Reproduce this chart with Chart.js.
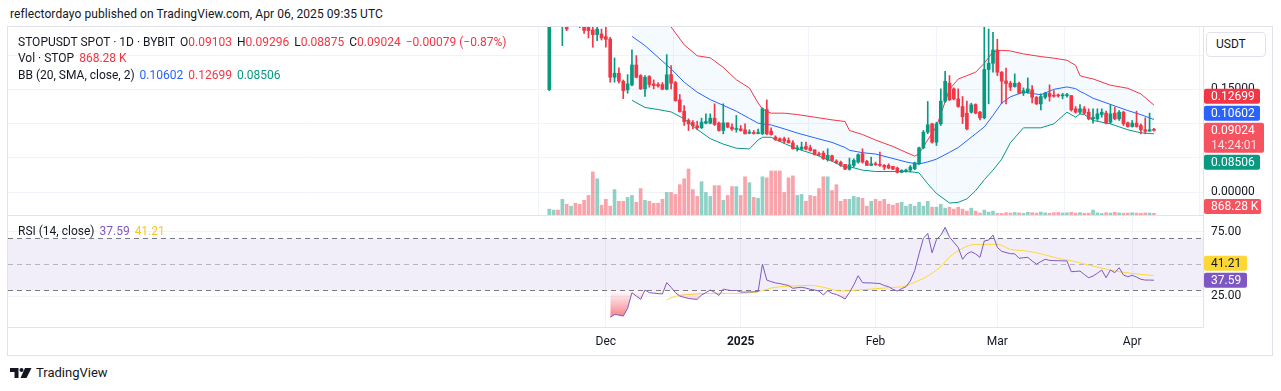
<!DOCTYPE html>
<html>
<head>
<meta charset="utf-8">
<title>STOPUSDT 1D</title>
<script src="https://cdn.jsdelivr.net/npm/chart.js@4.4.1/dist/chart.umd.min.js"></script>
<style>
    html, body { margin: 0; padding: 0; background: #fff; }
    body { position: relative; width: 1281px; height: 391px; overflow: hidden; font-family: Roboto, "Noto Sans", sans-serif; color: #131722; }
    .abs { position: absolute; white-space: nowrap; }
    #frame { left: 7px; top: 26px; width: 1266px; height: 330px; border: 1px solid #e0e3eb; box-sizing: border-box; }
    #priceCanvas { position: absolute; left: 8px; top: 27px; }
    #rsiCanvas { position: absolute; left: 8px; top: 215px; }
    .sep { position: absolute; left: 8px; width: 1195px; height: 1px; background: #e0e3eb; }
    .legend { font-size: 12px; line-height: 14px; }
    .legend span { margin-left: 5px; }
    .red { color: #F23645; }
    #usdt { left: 1206px; top: 32px; width: 60px; height: 25px; border: 1px solid #e0e3eb; border-radius: 4px; box-sizing: border-box; font-size: 12px; line-height: 23px; padding-left: 9px; background: #fff; }
</style>
</head>
<body>
<div class="abs" style="left:10px;top:7px;font-size:12px;line-height:14px;letter-spacing:0.08px;">reflectordayo published on TradingView.com, Apr 06, 2025 09:35 UTC</div>
<div id="frame" class="abs"></div>
<canvas id="priceCanvas" width="1265" height="188"></canvas>
<canvas id="rsiCanvas" width="1265" height="141"></canvas>
<div class="sep" style="top:215px;"></div>

<div class="abs legend" style="left:18px;top:35px;">STOPUSDT SPOT · 1D · BYBIT<span>O<b class="red" style="font-weight:normal">0.09103</b></span><span>H<b class="red" style="font-weight:normal">0.09296</b></span><span>L<b class="red" style="font-weight:normal">0.08875</b></span><span>C<b class="red" style="font-weight:normal">0.09024</b></span><span class="red">−0.00079 (−0.87%)</span></div>
<div class="abs legend" style="left:18px;top:51px;">Vol · STOP<span class="red">868.28 K</span></div>
<div class="abs legend" style="left:18px;top:68px;">BB (20, SMA, close, 2)<span style="color:#2962FF">0.10602</span><span style="color:#F23645">0.12699</span><span style="color:#089981">0.08506</span></div>
<div class="abs legend" style="left:18px;top:224px;">RSI (14, close)<span style="color:#7E57C2">37.59</span><span style="color:#F9C825">41.21</span></div>
<div id="usdt" class="abs">USDT</div>

<svg class="abs" style="left:10px;top:368px;" width="22" height="10" viewBox="0 0 22 10">
    <path d="M0 0H8.5V10H4.5V4H0Z" fill="#131722"/>
    <circle cx="11.5" cy="2" r="2" fill="#131722"/>
    <path d="M15 0H21.5L16.5 10H10.5Z" fill="#131722"/>
</svg>
<div class="abs" style="left:36px;top:365px;font-size:13px;line-height:16px;">TradingView</div>

<script>
// Daily candles, first one is 2024-11-18 (index 0), last is 2025-04-06 (index 139)
const opens = [
    0.1496, 0.2900, 0.3100, 0.2600, 0.2850, 0.2450, 0.2600, 0.2550, 0.2450, 0.2405,
    0.2367, 0.2299, 0.2308, 0.2269, 0.2235, 0.1676, 0.1735, 0.1618, 0.1492, 0.1565,
    0.1856, 0.1701, 0.1507, 0.1686, 0.1579, 0.1570, 0.1570, 0.1502, 0.1715, 0.1599,
    0.1346, 0.1180, 0.1045, 0.1016, 0.0967, 0.0938, 0.1006, 0.1006, 0.1079, 0.1006,
    0.0899, 0.1010, 0.0948, 0.0914, 0.0923, 0.0909, 0.0860, 0.0870, 0.0855, 0.0850,
    0.1205, 0.0889, 0.0802, 0.0778, 0.0778, 0.0753, 0.0719, 0.0627, 0.0627, 0.0666,
    0.0646, 0.0617, 0.0559, 0.0569, 0.0471, 0.0530, 0.0452, 0.0433, 0.0403, 0.0331,
    0.0389, 0.0438, 0.0559, 0.0447, 0.0389, 0.0413, 0.0403, 0.0389, 0.0389, 0.0374,
    0.0350, 0.0287, 0.0306, 0.0321, 0.0340, 0.0413, 0.0646, 0.0875, 0.0996, 0.0729,
    0.0996, 0.1327, 0.1590, 0.1507, 0.1360, 0.1249, 0.1150, 0.1166, 0.1278, 0.1166,
    0.1084, 0.1790, 0.1880, 0.2075, 0.1750, 0.1623, 0.1589, 0.1540, 0.1589, 0.1443,
    0.1458, 0.1492, 0.1385, 0.1288, 0.1385, 0.1443, 0.1414, 0.1419, 0.1404, 0.1409,
    0.1409, 0.1215, 0.1166, 0.1215, 0.1166, 0.1069, 0.1069, 0.1132, 0.1152, 0.1020,
    0.1152, 0.1069, 0.1166, 0.1011, 0.0957, 0.1006, 0.0972, 0.0909, 0.0889, 0.09103
];
const highs = [
    0.3300, 0.3600, 0.3400, 0.3000, 0.2900, 0.2700, 0.2750, 0.2600, 0.2500, 0.2450,
    0.2405, 0.2450, 0.2381, 0.2405, 0.2260, 0.1958, 0.1813, 0.1637, 0.1715, 0.2075,
    0.1992, 0.1715, 0.1701, 0.1701, 0.1637, 0.1599, 0.1599, 0.2007, 0.1846, 0.1618,
    0.1424, 0.1263, 0.1069, 0.1045, 0.1035, 0.1079, 0.1142, 0.1142, 0.1288, 0.1020,
    0.1288, 0.1010, 0.0996, 0.1118, 0.0972, 0.0996, 0.0909, 0.0899, 0.0918, 0.1230,
    0.1346, 0.0938, 0.0821, 0.0792, 0.0802, 0.0792, 0.0753, 0.0680, 0.0729, 0.0729,
    0.0685, 0.0617, 0.0583, 0.0598, 0.0632, 0.0540, 0.0471, 0.0452, 0.0403, 0.0496,
    0.0486, 0.0559, 0.0632, 0.0462, 0.0510, 0.0437, 0.0583, 0.0403, 0.0413, 0.0374,
    0.0365, 0.0326, 0.0335, 0.0389, 0.0437, 0.0656, 0.0899, 0.1322, 0.1006, 0.1020,
    0.1507, 0.1764, 0.1701, 0.1521, 0.1507, 0.1395, 0.1327, 0.1297, 0.1288, 0.1180,
    0.2405, 0.2381, 0.2333, 0.2230, 0.1760, 0.1812, 0.1618, 0.1725, 0.1604, 0.1521,
    0.1667, 0.1555, 0.1395, 0.1433, 0.1458, 0.1565, 0.1482, 0.1433, 0.1443, 0.1443,
    0.1409, 0.1249, 0.1278, 0.1249, 0.1215, 0.1215, 0.1215, 0.1215, 0.1181, 0.1278,
    0.1239, 0.1190, 0.1181, 0.1020, 0.1045, 0.1181, 0.0996, 0.1084, 0.1152, 0.09296
];
const lows = [
    0.1480, 0.2550, 0.2600, 0.2138, 0.2357, 0.2430, 0.2450, 0.2400, 0.2318, 0.2250,
    0.2114, 0.2211, 0.2220, 0.2114, 0.1604, 0.1604, 0.1589, 0.1365, 0.1443, 0.1550,
    0.1667, 0.1497, 0.1395, 0.1531, 0.1507, 0.1531, 0.1492, 0.1492, 0.1507, 0.1327,
    0.1166, 0.0972, 0.0899, 0.0923, 0.0909, 0.0928, 0.0996, 0.0996, 0.0972, 0.0889,
    0.0850, 0.0938, 0.0899, 0.0875, 0.0889, 0.0850, 0.0850, 0.0845, 0.0850, 0.0840,
    0.0836, 0.0831, 0.0753, 0.0734, 0.0715, 0.0715, 0.0627, 0.0598, 0.0617, 0.0617,
    0.0598, 0.0540, 0.0530, 0.0476, 0.0452, 0.0452, 0.0413, 0.0374, 0.0326, 0.0321,
    0.0365, 0.0423, 0.0423, 0.0384, 0.0389, 0.0389, 0.0374, 0.0326, 0.0340, 0.0326,
    0.0277, 0.0282, 0.0292, 0.0292, 0.0326, 0.0403, 0.0632, 0.0850, 0.0714, 0.0680,
    0.0972, 0.1307, 0.1336, 0.1346, 0.1239, 0.1000, 0.0909, 0.1152, 0.1142, 0.1055,
    0.1069, 0.1288, 0.1750, 0.1700, 0.1290, 0.1288, 0.1482, 0.1531, 0.1433, 0.1409,
    0.1443, 0.1302, 0.1278, 0.1200, 0.1361, 0.1327, 0.1385, 0.1385, 0.1361, 0.1385,
    0.1181, 0.1152, 0.1142, 0.1132, 0.1054, 0.1006, 0.1045, 0.1093, 0.0996, 0.0996,
    0.1054, 0.1045, 0.0972, 0.0948, 0.0948, 0.0948, 0.0850, 0.0850, 0.0889, 0.08875
];
const closes = [
    0.2900, 0.3100, 0.2800, 0.2850, 0.2380, 0.2600, 0.2550, 0.2430, 0.2360, 0.2357,
    0.2299, 0.2380, 0.2250, 0.2230, 0.1676, 0.1735, 0.1618, 0.1482, 0.1579, 0.1856,
    0.1676, 0.1507, 0.1676, 0.1570, 0.1555, 0.1550, 0.1502, 0.1711, 0.1590, 0.1336,
    0.1176, 0.1030, 0.0996, 0.0967, 0.0938, 0.1021, 0.1030, 0.1079, 0.0987, 0.0899,
    0.1010, 0.0948, 0.0919, 0.0923, 0.0899, 0.0850, 0.0875, 0.0855, 0.0870, 0.1215,
    0.0850, 0.0840, 0.0763, 0.0744, 0.0744, 0.0719, 0.0632, 0.0646, 0.0656, 0.0627,
    0.0607, 0.0549, 0.0544, 0.0486, 0.0535, 0.0462, 0.0433, 0.0389, 0.0335, 0.0399,
    0.0462, 0.0545, 0.0438, 0.0389, 0.0413, 0.0399, 0.0389, 0.0365, 0.0350, 0.0335,
    0.0287, 0.0316, 0.0321, 0.0365, 0.0428, 0.0646, 0.0875, 0.0982, 0.0729, 0.0996,
    0.1327, 0.1618, 0.1346, 0.1360, 0.1249, 0.1100, 0.0923, 0.1273, 0.1152, 0.1084,
    0.1790, 0.1880, 0.2075, 0.1750, 0.1620, 0.1585, 0.1531, 0.1589, 0.1443, 0.1482,
    0.1506, 0.1385, 0.1288, 0.1395, 0.1443, 0.1395, 0.1400, 0.1404, 0.1419, 0.1424,
    0.1200, 0.1166, 0.1215, 0.1152, 0.1069, 0.1093, 0.1142, 0.1166, 0.1006, 0.1142,
    0.1069, 0.1166, 0.0996, 0.0957, 0.1006, 0.0957, 0.0909, 0.0889, 0.0910, 0.09024
];
// volume in millions of STOP
const volumes = [
    3, 2.5, 2.5, 8, 5.5, 4.5, 6, 5.5, 7.5, 10,
    22, 18.5, 5, 8, 4.5, 13, 7, 7, 9, 10,
    6.5, 13.5, 7.5, 7, 6, 6, 8, 11.5, 11.5, 10.5,
    15.5, 18.5, 23.5, 13, 9.5, 17, 11.5, 9.5, 15, 15,
    7.5, 10, 14.5, 14.5, 10, 19.5, 16.5, 9, 8.5, 19.5,
    19, 22.5, 22.5, 22.5, 11.5, 19, 20, 10, 10.5, 7,
    10, 9.5, 13.5, 19.5, 19.5, 12.5, 15.5, 7, 8, 8,
    9.5, 9, 8.5, 4.5, 7, 8, 7, 8, 5.5, 5,
    6, 6.5, 4.5, 5.5, 4.5, 6.5, 4.5, 7, 4, 4,
    5.5, 3.5, 4, 3, 4, 3, 2, 3.5, 2, 1,
    2.5, 1.5, 2, 0.8, 0.8, 1.2, 1.0, 1.3, 1.1, 0.9,
    1.4, 1.2, 1.0, 1.5, 1.1, 0.9, 1.2, 1.3, 1.0, 1.1,
    1.4, 1.0, 1.2, 0.9, 1.0, 2.5, 1.1, 0.8, 1.2, 1.0,
    1.4, 1.1, 0.9, 1.0, 1.2, 1.0, 0.9, 1.1, 1.0, 0.86828
];

const monthTicks = [13, 44, 75, 103, 134];
const monthLabels = ['Dec', '2025', 'Feb', 'Mar', 'Apr'];
const priceTicks = [0, 0.05, 0.1, 0.15, 0.2];
const labelledPrices = [0, 0.15];   // the other labels sit under the badges / USDT button

// Bollinger Bands (20, 2)
const bbDays = [19, 22, 25, 28, 31, 34, 37, 40, 43, 46, 48, 49, 51, 54, 57, 61, 65, 68, 69, 72,
    75, 79, 82, 84, 85, 87, 89, 92, 94, 96, 98, 100, 102, 104, 106, 109, 113, 116, 119, 121,
    122, 123, 125, 129, 133, 136, 139];
const bbUpper = [0.340, 0.310, 0.275, 0.241, 0.215, 0.199, 0.196, 0.182, 0.164, 0.152, 0.130, 0.121, 0.1152, 0.1152, 0.1132, 0.1093, 0.1054, 0.1030, 0.0899, 0.0840,
    0.0760, 0.0665, 0.0580, 0.0525, 0.0560, 0.0762, 0.0957, 0.1500, 0.1650, 0.1700, 0.1750, 0.1880, 0.2050, 0.2070, 0.2060, 0.2017, 0.1978, 0.1955, 0.1925, 0.1850,
    0.1700, 0.1680, 0.1652, 0.1560, 0.1515, 0.1433, 0.12699];
const bbMid = [0.2274, 0.2138, 0.1968, 0.1798, 0.1604, 0.1458, 0.1350, 0.1266, 0.1180, 0.1075, 0.1006, 0.0995, 0.0980, 0.0923, 0.0862, 0.0792, 0.0725, 0.0650, 0.0610, 0.0575,
    0.0555, 0.0490, 0.0440, 0.0415, 0.0410, 0.0440, 0.0480, 0.0580, 0.0650, 0.0750, 0.0850, 0.0950, 0.1120, 0.1300, 0.1390, 0.1460, 0.1420, 0.1500, 0.1535, 0.1510,
    0.1470, 0.1440, 0.1370, 0.1280, 0.1190, 0.1130, 0.10602];
const bbLower = [0.1340, 0.1235, 0.1205, 0.1170, 0.1070, 0.0915, 0.0780, 0.0700, 0.0640, 0.0630, 0.0760, 0.0800, 0.0800, 0.0710, 0.0630, 0.0550, 0.0450, 0.0360, 0.0370, 0.0320,
    0.0300, 0.0300, 0.0300, 0.0290, 0.0280, 0.0120, -0.0020, -0.0160, -0.0150, -0.0100, 0.0020, 0.0180, 0.0320, 0.0480, 0.0720, 0.0938, 0.0938, 0.0996, 0.1166, 0.1093,
    0.1142, 0.1130, 0.1045, 0.0996, 0.0909, 0.0865, 0.08506];

// RSI (14) from day 14 on, and its 14-day average
const rsiStart = 14;
const rsiValues = [
    8.8, 11.0, 10.6, 9.8, 15.8, 27.9, 25.3, 22.8, 30.0, 27.9,
    27.6, 27.2, 26.9, 35.7, 32.1, 27.9, 25.3, 24.3, 23.5, 23.0,
    22.8, 26.1, 28.0, 30.0, 28.2, 25.8, 30.7, 30.0, 29.5, 29.7,
    28.4, 28.4, 28.5, 28.6, 28.7, 50.1, 37.7, 36.5, 35.5, 35.0,
    34.2, 33.5, 31.3, 31.8, 32.1, 31.5, 30.5, 30.0, 29.2, 26.1,
    29.5, 27.4, 26.5, 25.0, 23.0, 28.0, 34.0, 41.1, 35.7, 35.5,
    35.5, 35.2, 35.0, 33.5, 32.6, 30.5, 29.2, 31.0, 32.6, 37.0,
    45.0, 58.0, 70.0, 73.9, 58.9, 69.0, 72.5, 78.6, 71.0, 67.0,
    63.0, 53.8, 58.0, 59.7, 58.0, 55.3, 68.0, 68.7, 72.6, 63.0,
    60.0, 59.0, 58.2, 58.0, 54.6, 55.0, 55.3, 52.5, 50.1, 52.0,
    53.8, 53.0, 52.8, 52.7, 52.6, 52.5, 44.2, 44.4, 44.7, 42.0,
    39.5, 40.8, 43.0, 45.5, 39.5, 45.5, 43.4, 47.3, 41.6, 40.3,
    41.4, 40.0, 38.3, 37.7, 37.7, 37.59
];
const maDays = [27, 28, 30, 33, 37, 41, 44, 47, 49, 51, 53, 56, 60, 62, 64, 67, 71, 75, 79, 82,
    83, 86, 88, 90, 92, 95, 98, 101, 103, 106, 109, 112, 117, 120, 124, 128, 131, 136, 139];
const maValues = [22.2, 24.0, 25.8, 26.8, 27.4, 27.4, 27.4, 28.2, 29.5, 31.5, 32.5, 33.1, 33.6, 32.8, 31.3, 29.2, 30.0, 31.0, 32.0, 33.1,
    34.6, 39.0, 43.0, 48.1, 55.5, 62.3, 65.4, 65.4, 65.4, 61.5, 60.5, 58.9, 54.5, 52.7, 49.3, 46.2, 44.2, 42.1, 41.21];
const rsiTicks = [25, 75];

const UP = '#089981';
const DOWN = '#F23645';
const GRID = '#f0f3fa';
const LINE = '#e0e3eb';
const TEXT = '#131722';

// visible window in day units and value ranges of the panes
const X_MIN = -124.44, X_MAX = 150.28;
const PRICE_MIN = -0.0335, PRICE_MAX = 0.2410;
const VOL_MAX = 96;
const RSI_MIN = 1.09, RSI_MAX = 88.14;
const AXIS_W = 70, TIME_H = 28.7;

const last = closes.length - 1;
const days = closes.map((_, i) => i);
const upDay = days.map(i => closes[i] >= opens[i]);

function pts(xs, ys) {
    return xs.map((x, i) => ({ x: x, y: ys[i] }));
}

function rightAxisFit(scale) {
    scale.width = AXIS_W;
    scale.paddingTop = 0;
    scale.paddingBottom = 0;
}

// price labels on the right axis, stacked like TradingView does
const badgePlugin = {
    id: 'badges',
    afterDraw(chart, args, opts) {
        const ctx = chart.ctx;
        const area = chart.chartArea;
        const boxes = opts.items.map(b => ({
            ...b,
            h: b.sub ? 30 : 15,
            mid: chart.scales[b.axis].getPixelForValue(b.value)
        })).sort((a, b) => a.mid - b.mid);

        const a = boxes.findIndex(b => b.anchor);
        boxes[a].top = boxes[a].mid - 7.5;
        for (let i = a - 1; i >= 0; i--) {
            const bottom = Math.min(boxes[i].mid + boxes[i].h / 2, boxes[i + 1].top - 2);
            boxes[i].top = bottom - boxes[i].h;
        }
        for (let i = a + 1; i < boxes.length; i++) {
            const prev = boxes[i - 1];
            let top = Math.max(boxes[i].mid - boxes[i].h / 2, prev.top + prev.h + 2);
            boxes[i].top = Math.min(top, area.bottom - 1 - boxes[i].h);
        }

        ctx.save();
        ctx.font = '12px Roboto, "Noto Sans", sans-serif';
        ctx.textBaseline = 'middle';
        boxes.forEach(b => {
            const x = area.right + 1;
            ctx.fillStyle = b.bg;
            ctx.beginPath();
            ctx.roundRect(x, b.top, b.w || opts.width, b.h, 2);
            ctx.fill();
            ctx.fillStyle = b.fg || '#fff';
            ctx.fillText(b.text, x + 7, b.top + 8);
            if (b.sub) {
                ctx.fillStyle = 'rgba(255,255,255,0.8)';
                ctx.fillText(b.sub, x + 7, b.top + 23);
            }
        });
        ctx.restore();
    }
};

// 30/50/70 bands of the RSI pane
const rsiBands = {
    id: 'rsiBands',
    beforeDatasetsDraw(chart) {
        const ctx = chart.ctx;
        const area = chart.chartArea;
        const y = chart.scales.y;
        const y70 = Math.round(y.getPixelForValue(70)) + 0.5;
        const y50 = Math.round(y.getPixelForValue(50)) + 0.5;
        const y30 = Math.round(y.getPixelForValue(30)) + 0.5;
        ctx.save();
        ctx.fillStyle = 'rgba(126,87,194,0.1)';
        ctx.fillRect(area.left, y70, area.right - area.left, y30 - y70);
        ctx.lineWidth = 1;
        ctx.setLineDash([5, 4]);
        [[y70, '#787B86'], [y30, '#787B86'], [y50, 'rgba(120,123,134,0.5)']].forEach(([py, c]) => {
            ctx.strokeStyle = c;
            ctx.beginPath();
            ctx.moveTo(area.left, py);
            ctx.lineTo(area.right, py);
            ctx.stroke();
        });
        ctx.restore();
    }
};

function createPriceChart() {
    const canvas = document.getElementById('priceCanvas');
    const candleColors = upDay.map(u => u ? UP : DOWN);
    const volColors = upDay.map(u => u ? 'rgba(8,153,129,0.45)' : 'rgba(242,54,69,0.45)');

    return new Chart(canvas, {
        type: 'bar',
        data: {
            datasets: [
                {
                    type: 'line',
                    data: pts(bbDays, bbUpper),
                    borderColor: '#F23645',
                    borderWidth: 1,
                    pointRadius: 0,
                    backgroundColor: 'rgba(33,150,243,0.05)',
                    fill: '+2',
                    order: 5
                },
                {
                    type: 'line',
                    data: pts(bbDays, bbMid),
                    borderColor: '#2962FF',
                    borderWidth: 1,
                    pointRadius: 0,
                    fill: false,
                    order: 5
                },
                {
                    type: 'line',
                    data: pts(bbDays, bbLower),
                    borderColor: '#089981',
                    borderWidth: 1,
                    pointRadius: 0,
                    fill: false,
                    order: 5
                },
                {
                    data: days.map(i => ({ x: i, y: [lows[i], highs[i]] })),
                    backgroundColor: candleColors,
                    barThickness: 1,
                    grouped: false,
                    order: 2
                },
                {
                    data: days.map(i => ({ x: i, y: [opens[i], closes[i]] })),
                    backgroundColor: candleColors,
                    barThickness: 3,
                    minBarLength: 1,
                    grouped: false,
                    order: 1
                },
                {
                    data: days.map(i => ({ x: i, y: volumes[i] })),
                    yAxisID: 'yv',
                    backgroundColor: volColors,
                    barThickness: 3,
                    grouped: false,
                    order: 10
                }
            ]
        },
        options: {
            responsive: false,
            devicePixelRatio: 1,
            animation: false,
            layout: { padding: 0 },
            plugins: {
                legend: { display: false },
                tooltip: { enabled: false },
                badges: {
                    width: 56,
                    items: [
                        { axis: 'y', value: bbUpper[bbUpper.length - 1], text: bbUpper[bbUpper.length - 1].toFixed(5), bg: '#F23645' },
                        { axis: 'y', value: bbMid[bbMid.length - 1], text: bbMid[bbMid.length - 1].toFixed(5), bg: '#2962FF' },
                        { axis: 'y', value: closes[last], text: closes[last].toFixed(5), sub: '14:24:01', bg: '#F7525F', w: 60, anchor: true },
                        { axis: 'y', value: bbLower[bbLower.length - 1], text: bbLower[bbLower.length - 1].toFixed(5), bg: '#089981' },
                        { axis: 'yv', value: volumes[last], text: (volumes[last] * 1000).toFixed(2) + ' K', bg: '#F7525F', w: 57 }
                    ]
                }
            },
            scales: {
                x: {
                    type: 'linear',
                    min: X_MIN,
                    max: X_MAX,
                    offset: false,
                    afterBuildTicks: s => { s.ticks = monthTicks.map(v => ({ value: v })); },
                    ticks: { display: false },
                    grid: { color: GRID, drawTicks: false },
                    border: { display: false },
                    afterFit: s => { s.height = 0; s.paddingLeft = 0; s.paddingRight = 0; }
                },
                y: {
                    position: 'right',
                    min: PRICE_MIN,
                    max: PRICE_MAX,
                    afterBuildTicks: s => { s.ticks = priceTicks.map(v => ({ value: v })); },
                    ticks: {
                        color: TEXT,
                        font: { size: 12, family: 'Roboto' },
                        padding: 8,
                        callback: v => labelledPrices.includes(v) ? v.toFixed(5) : ''
                    },
                    grid: { color: GRID, drawTicks: false },
                    border: { display: true, color: LINE },
                    afterFit: rightAxisFit
                },
                yv: {
                    display: false,
                    min: 0,
                    max: VOL_MAX
                }
            }
        },
        plugins: [badgePlugin]
    });
}

function createRsiChart() {
    const canvas = document.getElementById('rsiCanvas');
    const ctx = canvas.getContext('2d');
    const areaH = canvas.height - TIME_H;
    const yOf = v => areaH * (RSI_MAX - v) / (RSI_MAX - RSI_MIN);

    const oversold = ctx.createLinearGradient(0, yOf(30), 0, yOf(0));
    oversold.addColorStop(0, 'rgba(242,54,69,0)');
    oversold.addColorStop(1, 'rgba(242,54,69,0.9)');
    const overbought = ctx.createLinearGradient(0, yOf(70), 0, yOf(100));
    overbought.addColorStop(0, 'rgba(8,153,129,0)');
    overbought.addColorStop(1, 'rgba(8,153,129,0.9)');

    const rsiPts = rsiValues.map((v, i) => ({ x: rsiStart + i, y: v }));

    return new Chart(canvas, {
        type: 'line',
        data: {
            datasets: [
                {
                    data: rsiPts,
                    borderColor: '#7E57C2',
                    borderWidth: 1,
                    pointRadius: 0,
                    fill: { target: { value: 30 }, above: 'rgba(0,0,0,0)', below: oversold },
                    order: 1
                },
                {
                    data: rsiPts,
                    borderColor: 'rgba(0,0,0,0)',
                    borderWidth: 0,
                    pointRadius: 0,
                    fill: { target: { value: 70 }, above: overbought, below: 'rgba(0,0,0,0)' },
                    order: 3
                },
                {
                    data: pts(maDays, maValues),
                    borderColor: '#FDD835',
                    borderWidth: 1,
                    pointRadius: 0,
                    cubicInterpolationMode: 'monotone',
                    fill: false,
                    order: 2
                }
            ]
        },
        options: {
            responsive: false,
            devicePixelRatio: 1,
            animation: false,
            layout: { padding: 0 },
            plugins: {
                legend: { display: false },
                tooltip: { enabled: false },
                badges: {
                    width: 43,
                    items: [
                        { axis: 'y', value: maValues[maValues.length - 1], text: maValues[maValues.length - 1].toFixed(2), bg: '#FDD835', fg: TEXT },
                        { axis: 'y', value: rsiValues[rsiValues.length - 1], text: rsiValues[rsiValues.length - 1].toFixed(2), bg: '#7E57C2', anchor: true }
                    ]
                }
            },
            scales: {
                x: {
                    type: 'linear',
                    min: X_MIN,
                    max: X_MAX,
                    offset: false,
                    afterBuildTicks: s => { s.ticks = monthTicks.map(v => ({ value: v })); },
                    ticks: {
                        autoSkip: false,
                        maxRotation: 0,
                        padding: 7,
                        color: TEXT,
                        font: c => ({ size: 12, family: 'Roboto', weight: (c.tick && c.tick.label === '2025') ? 'bold' : 'normal' }),
                        callback: v => monthLabels[monthTicks.indexOf(v)]
                    },
                    grid: { color: GRID, drawTicks: false },
                    border: { display: true, color: LINE },
                    afterFit: s => { s.height = TIME_H; s.paddingLeft = 0; s.paddingRight = 0; }
                },
                y: {
                    position: 'right',
                    min: RSI_MIN,
                    max: RSI_MAX,
                    afterBuildTicks: s => { s.ticks = rsiTicks.map(v => ({ value: v })); },
                    ticks: {
                        color: TEXT,
                        font: { size: 12, family: 'Roboto' },
                        padding: 8,
                        callback: v => v.toFixed(2)
                    },
                    grid: { color: GRID, drawTicks: false },
                    border: { display: true, color: LINE },
                    afterFit: rightAxisFit
                }
            }
        },
        plugins: [rsiBands, badgePlugin]
    });
}

createPriceChart();
createRsiChart();
</script>
</body>
</html>
